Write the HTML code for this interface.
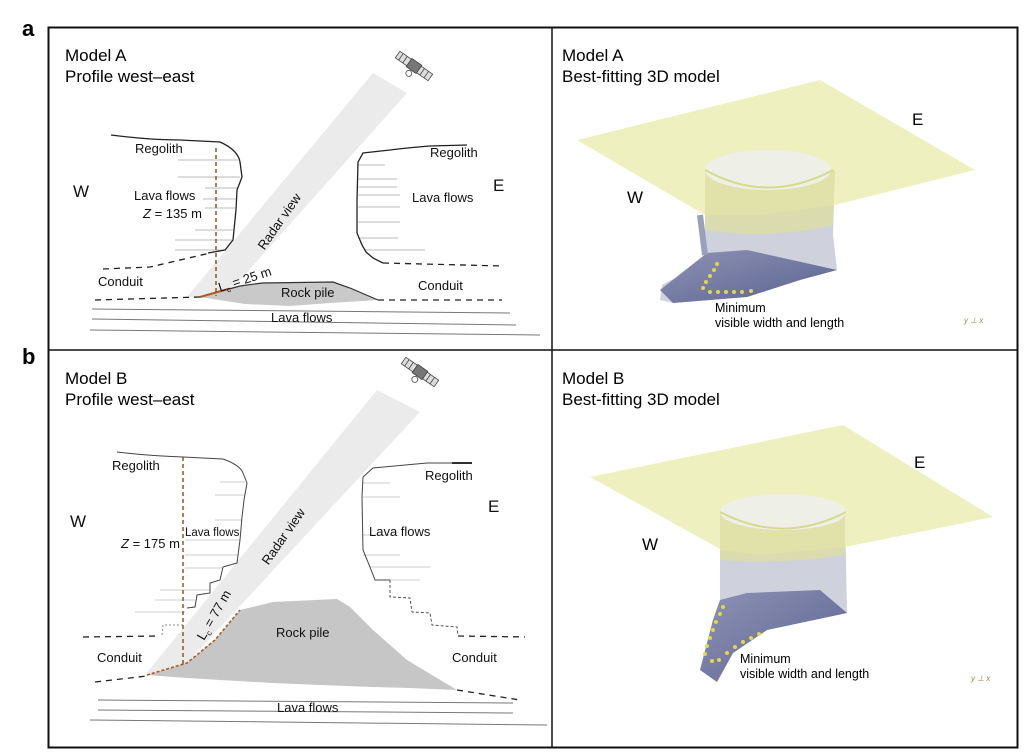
<!DOCTYPE html>
<html><head><meta charset="utf-8"><style>
html,body{margin:0;padding:0;background:#fff;}
svg{display:block;font-family:"Liberation Sans",sans-serif;}
</style></head><body>
<svg width="1024" height="753" viewBox="0 0 1024 753" xmlns="http://www.w3.org/2000/svg">
<rect width="1024" height="753" fill="#fff"/>
<text x="22" y="36" font-size="22" font-weight="bold">a</text>
<text x="22" y="364" font-size="22" font-weight="bold">b</text>
<rect x="48.5" y="27.5" width="969" height="720" fill="none" stroke="#111" stroke-width="2"/>
<line x1="552" y1="27" x2="552" y2="748" stroke="#111" stroke-width="1.5"/>
<line x1="48" y1="350" x2="1018" y2="350" stroke="#111" stroke-width="1.5"/>

<!-- ========== Panel A left ========== -->
<g>
<polygon points="373,73 407,93 225,297 187,297" fill="#ebebeb"/>
<text x="65" y="61" font-size="17">Model A</text>
<text x="65" y="82" font-size="17">Profile west–east</text>
<g transform="translate(414,66) rotate(35)" stroke="#444" stroke-width="0.8" fill="#ddd">
<rect x="-20" y="-4" width="14" height="8"/><rect x="6" y="-4" width="14" height="8"/>
<line x1="-16" y1="-4" x2="-16" y2="4"/><line x1="-11" y1="-4" x2="-11" y2="4"/>
<line x1="10" y1="-4" x2="10" y2="4"/><line x1="15" y1="-4" x2="15" y2="4"/>
<rect x="-6" y="-5" width="12" height="10" fill="#777"/><circle cx="0" cy="9" r="3" fill="#fff"/>
</g>
<g stroke="#bbb" stroke-width="1">
<line x1="178" y1="160" x2="238" y2="160"/><line x1="178" y1="177" x2="240" y2="177"/>
<line x1="205" y1="188" x2="238" y2="188"/><line x1="203" y1="199" x2="236" y2="199"/>
<line x1="205" y1="208" x2="235" y2="208"/><line x1="195" y1="230" x2="233" y2="230"/>
<line x1="175" y1="240" x2="232" y2="240"/><line x1="175" y1="250" x2="226" y2="250"/>
</g>
<path d="M111,135 Q150,140 180,140 L220,142 Q238,150 240,162 L242,177 L237,190 L236,210 L233,240 L225,250 L208,253" fill="none" stroke="#222" stroke-width="1.3"/>
<path d="M103,269 L150,267 L210,253" fill="none" stroke="#222" stroke-width="1.3" stroke-dasharray="6,5"/>
<g stroke="#bbb" stroke-width="1">
<line x1="358" y1="165" x2="385" y2="165"/><line x1="358" y1="179" x2="397" y2="179"/>
<line x1="358" y1="187" x2="397" y2="187"/><line x1="358" y1="195" x2="400" y2="195"/>
<line x1="358" y1="207" x2="400" y2="207"/><line x1="358" y1="222" x2="400" y2="222"/>
<line x1="358" y1="238" x2="398" y2="238"/><line x1="365" y1="250" x2="425" y2="250"/>
</g>
<path d="M467,145 L430,146 Q405,148 390,150 L363,153 L358,162 L357,200 L357,233 L362,245 L366,252 L373,258 L383,263" fill="none" stroke="#222" stroke-width="1.3"/>
<path d="M383,263 L503,266" fill="none" stroke="#222" stroke-width="1.3" stroke-dasharray="6,5"/>
<path d="M200,297 L240,286 L262,283 L333,282 L350,288 L378,300 L330,303 L290,306 L245,304 Z" fill="#c9c9c9" stroke="none"/>
<path d="M200,297 L240,286 L262,283 L333,282 L350,288 L378,300" fill="none" stroke="#333" stroke-width="1.2"/>
<path d="M200,297 L228,289" stroke="#b25a1e" stroke-width="2"/>
<line x1="216" y1="148" x2="216" y2="296" stroke="#8a5a22" stroke-width="1.5" stroke-dasharray="4,3"/>
<path d="M95,300 L200,297" fill="none" stroke="#222" stroke-width="1.3" stroke-dasharray="6,5"/>
<path d="M378,300 L502,300" fill="none" stroke="#222" stroke-width="1.3" stroke-dasharray="6,5"/>
<g stroke="#777" stroke-width="1">
<line x1="92" y1="309" x2="510" y2="313"/><line x1="92" y1="319" x2="516" y2="325"/><line x1="90" y1="330" x2="540" y2="335"/>
</g>
<g font-size="13" fill="#111">
<text x="135" y="153">Regolith</text>
<text x="73" y="197" font-size="17">W</text>
<text x="134" y="200">Lava flows</text>
<text x="143" y="218"><tspan font-style="italic">Z</tspan> = 135 m</text>
<text x="98" y="286">Conduit</text>
<text x="281" y="297">Rock pile</text>
<text x="271" y="322">Lava flows</text>
<text x="430" y="157">Regolith</text>
<text x="493" y="191" font-size="17">E</text>
<text x="412" y="202">Lava flows</text>
<text x="418" y="290">Conduit</text>
<text transform="translate(283,224) rotate(-55)" text-anchor="middle" font-size="13">Radar view</text>
<text transform="translate(220,292) rotate(-18)" font-size="13">L<tspan font-size="8" dy="3">c</tspan><tspan dy="-3"> = 25 m</tspan></text>
</g>
</g>

<!-- ========== Panel B left ========== -->
<g>
<polygon points="377,390 420,412 187,663 145,675" fill="#ebebeb"/>
<text x="65" y="384" font-size="17">Model B</text>
<text x="65" y="405" font-size="17">Profile west–east</text>
<g transform="translate(420,372) rotate(35)" stroke="#444" stroke-width="0.8" fill="#ddd">
<rect x="-20" y="-4" width="14" height="8"/><rect x="6" y="-4" width="14" height="8"/>
<line x1="-16" y1="-4" x2="-16" y2="4"/><line x1="-11" y1="-4" x2="-11" y2="4"/>
<line x1="10" y1="-4" x2="10" y2="4"/><line x1="15" y1="-4" x2="15" y2="4"/>
<rect x="-6" y="-5" width="12" height="10" fill="#777"/><circle cx="0" cy="9" r="3" fill="#fff"/>
</g>
<g stroke="#ccc" stroke-width="1">
<line x1="220" y1="482" x2="245" y2="482"/><line x1="215" y1="495" x2="245" y2="495"/>
<line x1="215" y1="520" x2="242" y2="520"/><line x1="185" y1="540" x2="240" y2="540"/>
<line x1="185" y1="555" x2="238" y2="555"/><line x1="185" y1="568" x2="222" y2="568"/>
<line x1="160" y1="590" x2="210" y2="590"/><line x1="155" y1="600" x2="195" y2="600"/>
<line x1="135" y1="612" x2="185" y2="612"/>
</g>
<path d="M117,452 Q150,456 183,457 L223,459 Q240,465 243,473 L247,483 L244,500 L242,517 L240,540 L237,563 L223,567 L220,580 L210,583 L210,593 L197,595 L195,607 L187,608" fill="none" stroke="#444" stroke-width="1"/>
<path d="M183,625 L163,625 L162,635" fill="none" stroke="#888" stroke-width="1" stroke-dasharray="2,2"/>
<path d="M83,637 L160,636" fill="none" stroke="#222" stroke-width="1.3" stroke-dasharray="6,5"/>
<g stroke="#ccc" stroke-width="1">
<line x1="363" y1="483" x2="390" y2="483"/><line x1="363" y1="497" x2="400" y2="497"/>
<line x1="363" y1="535" x2="395" y2="535"/><line x1="363" y1="555" x2="400" y2="555"/>
<line x1="370" y1="567" x2="430" y2="567"/><line x1="375" y1="580" x2="420" y2="580"/>
</g>
<path d="M472,463 L427,463 L373,468 L363,477 L362,497 L363,550 L370,567 L375,580 L390,580" fill="none" stroke="#444" stroke-width="1"/>
<path d="M390,580 L390,597 L410,598 L412,612 L430,613 L432,625 L457,627 L458,635" fill="none" stroke="#555" stroke-width="1" stroke-dasharray="3,2"/>
<path d="M458,636 L525,637" fill="none" stroke="#222" stroke-width="1.3" stroke-dasharray="6,5"/>
<path d="M472,463 L452,463" stroke="#111" stroke-width="1.8"/>
<path d="M147,675 L187,663 L215,640 L240,610 L273,602 L337,599 L350,607 L373,630 L407,660 L457,690 L410,688 L373,687 L320,685 L273,683 L220,680 L173,677 Z" fill="#c6c6c6"/>
<path d="M147,675 L187,663 L215,640 L240,610" fill="none" stroke="#b25a1e" stroke-width="1.6" stroke-dasharray="3,2"/>
<line x1="183" y1="457" x2="183" y2="665" stroke="#8a5a22" stroke-width="1.5" stroke-dasharray="4,3"/>
<path d="M95,682 L147,676" fill="none" stroke="#222" stroke-width="1.3" stroke-dasharray="6,5"/>
<path d="M457,690 L520,700" fill="none" stroke="#222" stroke-width="1.3" stroke-dasharray="6,5"/>
<g stroke="#777" stroke-width="1">
<line x1="98" y1="700" x2="513" y2="703"/><line x1="98" y1="710" x2="513" y2="713"/><line x1="90" y1="720" x2="547" y2="725"/>
</g>
<g font-size="13" fill="#111">
<text x="112" y="470">Regolith</text>
<text x="70" y="527" font-size="17">W</text>
<text x="185" y="536" font-size="11.5">Lava flows</text>
<text x="121" y="548"><tspan font-style="italic">Z</tspan> = 175 m</text>
<text x="97" y="662">Conduit</text>
<text x="276" y="637">Rock pile</text>
<text x="277" y="712">Lava flows</text>
<text x="425" y="480">Regolith</text>
<text x="488" y="512" font-size="17">E</text>
<text x="369" y="536">Lava flows</text>
<text x="452" y="662">Conduit</text>
<text transform="translate(287,539) rotate(-55)" text-anchor="middle" font-size="13">Radar view</text>
<text transform="translate(204,641) rotate(-60)" font-size="13">L<tspan font-size="8" dy="3">c</tspan><tspan dy="-3"> = 77 m</tspan></text>
</g>
</g>

<defs>
<linearGradient id="rk" x1="0" y1="0" x2="1" y2="1"><stop offset="0" stop-color="#8e93b5"/><stop offset="1" stop-color="#5a6290"/></linearGradient>
</defs>
<!-- ========== Panel A right ========== -->
<g>
<text x="562" y="61" font-size="17">Model A</text>
<text x="562" y="82" font-size="17">Best-fitting 3D model</text>
<path d="M705,170 L705,255 L690,270 L662,285 L660,300 L673,303 L747,297 L800,280 L837,270 L833,235 L835,170 Z" fill="#cfd1dc"/>
<path d="M707,253 L747,250 L837,270 L800,280 L747,297 L673,303 L660,290 Z" fill="url(#rk)"/>
<path d="M700,215 L705,255" stroke="#9a9fbd" stroke-width="6"/>
<polygon points="577,140 820,80 975,170 835,205 760,215 705,215" fill="#eeefbc" opacity="0.95"/>
<path d="M705,170 Q705,215 705,230 Q770,240 833,225 L835,170 Z" fill="#dcdfa4" opacity="0.8"/>
<ellipse cx="768" cy="170" rx="63" ry="20" fill="#eef0e8"/>
<path d="M705,170 Q768,205 833,170" fill="none" stroke="#d6da8c" stroke-width="2"/>
<g fill="#e5d547">
<circle cx="717" cy="264" r="2"/><circle cx="714" cy="270" r="2"/><circle cx="710" cy="276" r="2"/><circle cx="706" cy="282" r="2"/><circle cx="703" cy="288" r="2"/>
<circle cx="710" cy="292" r="2"/><circle cx="718" cy="292" r="2"/><circle cx="726" cy="292" r="2"/><circle cx="734" cy="292" r="2"/><circle cx="742" cy="292" r="2"/><circle cx="751" cy="291" r="2"/>
</g>
<text x="627" y="203" font-size="17">W</text>
<text x="912" y="125" font-size="17">E</text>
<text x="715" y="312" font-size="12.5">Minimum</text>
<text x="715" y="327" font-size="12.5">visible width and length</text>
<text x="964" y="323" font-size="8" fill="#a08a50" font-style="italic">y ⊥ x</text>
</g>

<!-- ========== Panel B right ========== -->
<g>
<text x="562" y="384" font-size="17">Model B</text>
<text x="562" y="405" font-size="17">Best-fitting 3D model</text>
<path d="M720,512 L720,600 L713,620 L700,670 L717,682 L733,653 L767,630 L847,613 L845,512 Z" fill="#cfd1dc"/>
<path d="M720,600 L747,593 L820,590 L847,613 L767,630 L733,653 L717,682 L700,670 L713,620 Z" fill="url(#rk)"/>
<polygon points="590,477 843,425 993,517 845,547 760,555 722,550" fill="#eeefbc" opacity="0.95"/>
<path d="M720,512 L720,560 Q780,565 845,555 L845,512 Z" fill="#dcdfa4" opacity="0.8"/>
<ellipse cx="783" cy="512" rx="63" ry="18" fill="#eef0e8"/>
<path d="M720,512 Q783,545 846,512" fill="none" stroke="#d6da8c" stroke-width="2"/>
<g fill="#e5d547">
<circle cx="723" cy="607" r="2"/><circle cx="720" cy="614" r="2"/><circle cx="716" cy="622" r="2"/><circle cx="713" cy="630" r="2"/><circle cx="710" cy="638" r="2"/><circle cx="707" cy="646" r="2"/><circle cx="705" cy="654" r="2"/>
<circle cx="712" cy="661" r="2"/><circle cx="719" cy="660" r="2"/><circle cx="727" cy="653" r="2"/><circle cx="735" cy="647" r="2"/><circle cx="743" cy="642" r="2"/><circle cx="751" cy="638" r="2"/><circle cx="759" cy="634" r="2"/>
</g>
<text x="642" y="550" font-size="17">W</text>
<text x="914" y="468" font-size="17">E</text>
<text x="740" y="663" font-size="12.5">Minimum</text>
<text x="740" y="678" font-size="12.5">visible width and length</text>
<text x="971" y="681" font-size="8" fill="#a08a50" font-style="italic">y ⊥ x</text>
</g>
</svg>
</body></html>
